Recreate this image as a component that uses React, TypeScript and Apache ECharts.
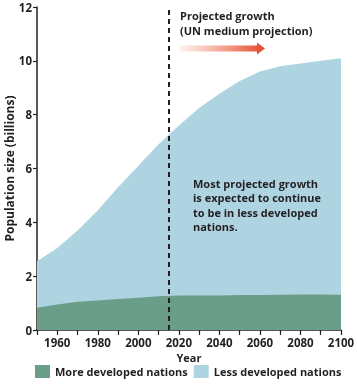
import React, { useEffect, useRef } from "react";
import * as echarts from "echarts";

const years = [1950, 1960, 1970, 1980, 1990, 2000, 2010, 2020, 2030, 2040, 2050, 2060, 2070, 2080, 2090, 2100];
const moreDeveloped = [0.83, 0.95, 1.05, 1.1, 1.15, 1.2, 1.25, 1.28, 1.28, 1.28, 1.3, 1.3, 1.31, 1.32, 1.32, 1.31];
const worldTotal = [2.55, 3.05, 3.7, 4.45, 5.3, 6.1, 6.9, 7.6, 8.25, 8.78, 9.25, 9.6, 9.8, 9.9, 10.0, 10.1];
const projectionYear = 2015;
const yTicks = [0, 2, 4, 6, 8, 10, 12];
const xLabelYears = [1960, 1980, 2000, 2020, 2040, 2060, 2080, 2100];

const FONT = "Open Sans";

export default function App() {
  const ref = useRef<HTMLDivElement>(null);
  useEffect(() => {
    if (!ref.current) return;
    const chart = echarts.init(ref.current, undefined, { renderer: "svg" });
    const bold = { fontFamily: FONT, fontWeight: "bold" as const, color: "#231f20" };
    chart.setOption({
      animation: false,
      textStyle: { fontFamily: FONT },
      grid: { left: 37, right: 16, top: 7, bottom: 56, containLabel: false, outerBoundsMode: "none" },
      xAxis: {
        type: "value",
        min: 1950,
        max: 2100,
        interval: 10,
        name: "Year",
        nameLocation: "middle",
        nameGap: 22,
        nameMoveOverlap: false,
        nameTextStyle: { ...bold, fontSize: 11 },
        axisLine: { lineStyle: { color: "#231f20", width: 1.5 } },
        axisTick: { lineStyle: { color: "#231f20", width: 1.2 }, length: 5 },
        axisLabel: {
          ...bold,
          fontSize: 11.5,
          margin: 6,
          formatter: (v: number) => (xLabelYears.includes(v) ? String(v) : ""),
        },
        splitLine: { show: false },
      },
      yAxis: {
        type: "value",
        min: yTicks[0],
        max: yTicks[yTicks.length - 1],
        interval: 2,
        name: "Population size (billions)",
        nameLocation: "middle",
        nameGap: 22,
        nameMoveOverlap: false,
        nameTextStyle: { ...bold, fontSize: 12 },
        axisLine: { show: true, lineStyle: { color: "#231f20", width: 1.5 } },
        axisTick: { show: true, lineStyle: { color: "#231f20", width: 1.2 }, length: 4 },
        axisLabel: { ...bold, fontSize: 11.5, margin: 5 },
        splitLine: { show: false },
      },
      legend: {
        bottom: 3,
        left: 30,
        icon: "rect",
        itemWidth: 15,
        itemHeight: 13,
        itemGap: 6,
        textStyle: { ...bold, fontSize: 11 },
        data: ["More developed nations", "Less developed nations"],
      },
      series: [
        {
          name: "Less developed nations",
          type: "line",
          symbol: "none",
          lineStyle: { width: 0 },
          color: "#aed4e2",
          areaStyle: { color: "#aed4e2", opacity: 1 },
          data: years.map((y, i) => [y, worldTotal[i]]),
          z: 2,
        },
        {
          name: "More developed nations",
          type: "line",
          symbol: "none",
          lineStyle: { width: 0 },
          color: "#6b9e88",
          areaStyle: { color: "#6b9e88", opacity: 1 },
          data: years.map((y, i) => [y, moreDeveloped[i]]),
          z: 3,
          markLine: {
            silent: true,
            symbol: "none",
            label: { show: false },
            lineStyle: { color: "#231f20", type: [5, 4], width: 2 },
            data: [{ xAxis: projectionYear }],
            z: 5,
          },
        },
      ],
      graphic: [
        {
          type: "text",
          left: 180,
          top: 8,
          style: {
            text: "Projected growth\n(UN medium projection)",
            font: `bold 11px "${FONT}"`,
            lineHeight: 15,
            fill: "#231f20",
          },
          z: 10,
        },
        {
          type: "rect",
          shape: { x: 180, y: 45.5, width: 78, height: 6 },
          style: {
            fill: new echarts.graphic.LinearGradient(0, 0, 1, 0, [
              { offset: 0, color: "rgba(240,120,90,0.1)" },
              { offset: 1, color: "#e8553a" },
            ]),
          },
          z: 10,
        },
        {
          type: "polygon",
          shape: { points: [[257, 42.5], [265, 48.5], [257, 54.5]] },
          style: { fill: "#e5533a" },
          z: 10,
        },
        {
          type: "text",
          left: 193,
          top: 176,
          style: {
            text: "Most projected growth\nis expected to continue\nto be in less developed\nnations.",
            font: `bold 11px "${FONT}"`,
            lineHeight: 14.5,
            fill: "#231f20",
          },
          z: 10,
        },
      ],
    });
    return () => chart.dispose();
  }, []);
  return <div ref={ref} style={{ width: 357, height: 386, position: "fixed", left: 0, top: 0 }} />;
}
